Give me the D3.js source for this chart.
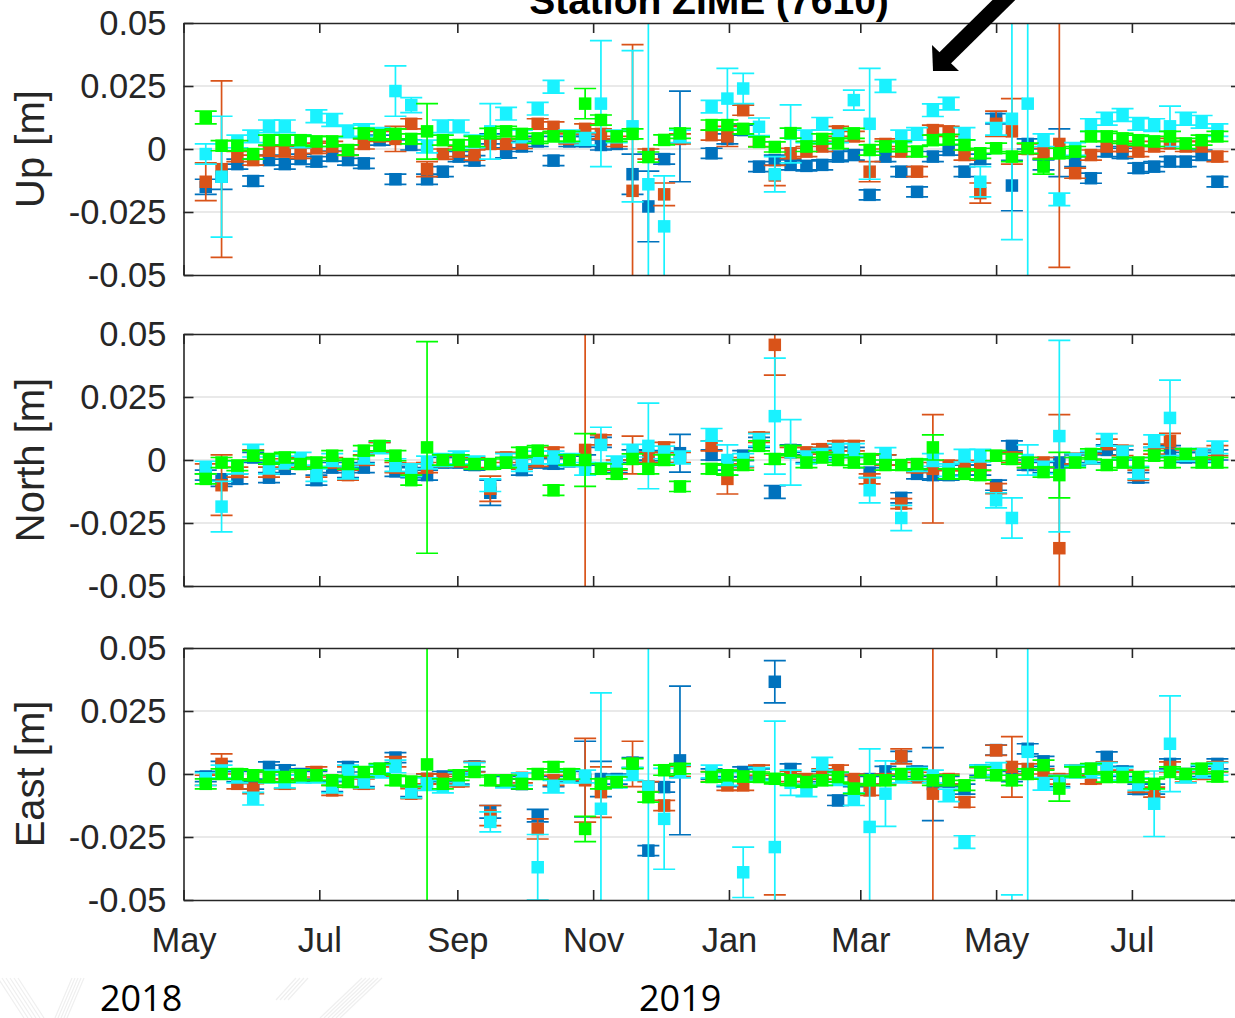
<!DOCTYPE html>
<html>
<head>
<meta charset="utf-8">
<script src="https://cdn.jsdelivr.net/npm/d3@7"></script>
<style>
  body { margin: 0; background: #fff; }
  svg { display: block; }
</style>
</head>
<body>
<div id="chart"></div>
<script>
// weekly coordinate residuals of station ZIME, values in millimetres (null = no solution)
const firstEpoch = '2018-05-11'
const epochStepDays = 7.1
const epochCount = 65

const seriesColors = ['#0072BD', '#D95319', '#19F2FF', '#00FF00']
const panelLabels = ['Up [m]', 'North [m]', 'East [m]']

const yTickValues = [-0.05, -0.025, 0, 0.025, 0.05]
const yTickLabels = ['-0.05', '-0.025', '0', '0.025', '0.05']
const gridValues = [-0.025, 0, 0.025]
const monthTicks = ['2018-05-01', '2018-07-01', '2018-09-01', '2018-11-01', '2019-01-01', '2019-03-01', '2019-05-01', '2019-07-01']
const monthLabels = ['May', 'Jul', 'Sep', 'Nov', 'Jan', 'Mar', 'May', 'Jul']
const yearLabels = ['2018', '2019']

// ---- Up ----
const upBlue = [-15, -11, -6, -12.7, -4.4, -6, -4, -5, -2.8, -4.4,
  -5.7, 3.5, -12, 1.6, -12, -9, -3, -4.6, 4, -1.5,
  1, 3, -4.6, 3, 3, 1.6, 2, -10, -22.8, -4,
  5, null, -1.7, 4, 7.5, -7, -4.4, -6.3, -6.7, -6.3,
  -3, -2.4, -18.2, -3, -9, -17, -3, -0.4, -9, -4,
  12, -14.5, 2, -6.3, -1.5, -5, -11.6, -1, -1.7, -7.6,
  -7, -5, -5, -2.4, -13]
const upBlueErr = [3, 5, 2, 2, 2, 2, 2, 2, 2, 2,
  2, 2, 2, 2, 2, 2, 2, 2, 2, 2,
  2, 2, 2, 2, 2, 2, 2, 8, 14, 2,
  18, null, 2, 2, 2, 2, 2, 2, 2, 2,
  2, 2, 2, 2, 2, 2, 2, 2, 2, 2,
  2, 10, 2, 2, 9.5, 2, 2, 2, 2, 2,
  2, 2, 2, 2, 2]
const upOrange = [-13, -8, -3, -4.4, -0.7, -1, -1.7, 0.3, 1, -0.5,
  2, 5, 4, 10, -8, -2, -1, -2.4, 2, 2,
  2.2, 10, 8.8, 4, 8, 6, 3, -16.6, -2, -18,
  4, null, 5.5, 5, 15.4, 3, -10.5, -1.7, -1, 1,
  7, 5, -9, 2, -1, -9, 7.5, 7, -2.4, -17.5,
  10, 7, 0, -1.7, 2, -9.6, -2.4, 1, 1, -1,
  1, 2.2, 1, 1, -3]
const upOrangeErr = [7.5, 35, 2, 2, 2, 2, 2, 2, 2, 2,
  2, 2, 5, 2, 3, 2, 2, 2, 2, 2,
  2, 2, 2, 2, 2, 2, 2, 58, 2, 4.5,
  2, null, 2, 4, 2, 2, 4, 2, 2, 2,
  2, 2, 4, 2, 2, 2, 2, 2, 2, 4,
  5, 13, 2, 2, 49, 2, 2, 2, 2, 2,
  2, 2, 2, 2, 2]
const upCyan = [-2, -11, 3, 5, 9, 9, 3, 13, 11.5, 7,
  7.5, 6, 23, 17.4, 1, 9, 9, 3, 7, 14,
  5, 16, 24.7, 5, 4, 18, 5, 9, -14, -30.7,
  5, null, 16.8, 20, 24, 8.8, -10, 6, 5, 10,
  5, 19.4, 10, 25, 5, 6, 15.4, 18, 6, -13,
  8, 12, 18, 3.5, -20, 0, 9.5, 12, 13.5, 10,
  9.5, 9, 12, 10.8, 7.5]
const upCyanErr = [4, 24, 2.5, 2.5, 2.5, 2.5, 2.5, 2.5, 2.5, 2.5,
  2.5, 2.5, 10, 3, 2.5, 2.5, 2.5, 2.5, 11, 2.5,
  2.5, 2.5, 2.5, 2.5, 2.5, 25, 2.5, 30, 70, 20,
  2.5, null, 2.5, 12, 6, 3.5, 7, 11.5, 2.5, 2.5,
  2.5, 4, 22, 2.5, 2.5, 2.5, 2.5, 2.5, 2.5, 6,
  2.5, 48, 80, 2.5, 2.5, 2.5, 2.5, 2.5, 2.5, 2.5,
  2.5, 8, 2.5, 2.5, 2.5]
const upGreen = [12.5, 1.3, 1.3, -2, 3.5, 3.5, 3.5, 3, 3, -0.4,
  6.2, 5.5, 6, 4, 7, 3.5, 1.6, 3, 6.2, 7,
  6, 4.2, 5, 5, 18, 11.5, 5, 6, -3.2, 3.6,
  6.2, null, 9.5, 9.5, 8, 2.8, 0.8, 6.3, 1, 4,
  2.2, 6.2, -0.4, 1, 1, -1, 3.5, 3.8, 1.6, -1.7,
  0.3, -3, 0.3, -7, -1.7, -1, 5, 5, 4.2, 3.5,
  3, 5, 2.2, 3.5, 5]
const upGreenErr = [2.5, 2, 2, 2, 2, 2, 2, 2, 2, 2,
  2, 2, 2, 2, 11, 2, 2, 2, 2, 2,
  2, 2, 2, 2, 6, 2, 2, 2, 2, 2,
  2, null, 2, 2, 2, 2, 2, 2, 2, 2,
  2, 2, 2, 2, 2, 2, 2, 2, 2, 2,
  2, 2, 2, 3, 2, 2, 2, 2, 2, 2,
  2, 2, 2, 2, 2]

// ---- North ----
const northBlue = [-6, -8, -7.5, 1, -7, -3.5, -1, -8, -3, -5,
  -3, 5, -4.5, -5, -6, -1, -1, -2, -13, -1,
  -4, -1, -1.5, -0.5, 0, 7, -3, 2, 1.7, 1,
  2.7, null, 2, -2, 1.7, 7, -12.7, 4, 1, 2,
  3, 3, -5, 0, -15, -5.5, -6, -6, -4, -4,
  -10, 5.6, -2, -3, -1, 0, 1, 4, 2, -7,
  3, 3.7, 1, 1, 2]
const northBlueErr = [2, 2.5, 2, 2, 2, 2, 2, 2, 2, 2,
  2, 2, 2, 2, 2, 2, 2, 2, 5, 2,
  2, 2, 2, 2, 2, 2, 2, 2, 2, 2,
  7.5, null, 2, 2, 2, 2, 2.5, 2, 2, 2,
  2, 2, 2, 2, 2, 2, 2, 2, 2, 2,
  2, 2, 2, 2, 2, 2, 2, 2, 2, 2,
  2, 2, 2, 2, 2]
const northOrange = [-3.5, -10, -4.8, 2, -4.8, -1.5, -1, -4.8, -1, -6,
  0, 5, -3, -3.5, -3, -0.5, -0.5, -1, -11.4, 1,
  -1.6, -0.5, 3, 0, 4, 8, -2, 2, 1, 5,
  1, null, 5.6, -7.5, -1, 9, 45.7, 3, 3, 4.3,
  5.6, 5.6, -7.5, 0, -17.3, -3, -3.5, -2.2, -2.2, -2.2,
  -11.4, 1, -1, -1, -35, 0.5, 0.5, 6.3, 3.7, -6,
  4.3, 7.6, 2, 2.4, 3.7]
const northOrangeErr = [2, 12, 2, 2, 2, 2, 2, 2, 2, 2,
  2, 2, 2, 2, 2, 2, 2, 2, 5, 2,
  2, 2, 2, 2, 60, 2, 2, 7.5, 2, 2,
  2, null, 2, 6, 2, 2, 12, 2, 2, 2,
  2, 2, 2, 2, 2, 2, 21.5, 2, 2, 2,
  2, 2, 2, 2, 53, 2, 2, 2, 2, 2,
  2, 3, 2, 2, 2]
const northCyan = [-3, -18.5, -3, 3.7, -3, -1, 0.5, -6, 0, -5,
  1, 5, -2, -4, -1, 0, 1, -1, -10, 0,
  -2, 1, 1, 0, -3.5, 6, -1, 3.7, 5.6, 3,
  1, null, 10, 0, 0, 8, 17.4, 3, 1, 2,
  4, 4, -12, 2.4, -23, -2, 0, -4, 1.7, 1.7,
  -16, -23, 0, -3, 9.5, 0, 1, 8, 3, -5,
  7.5, 16.7, 2, 2, 5]
const northCyanErr = [2.5, 10, 2.5, 2.5, 2.5, 2.5, 2.5, 2.5, 2.5, 2.5,
  2.5, 2.5, 2.5, 2.5, 2.5, 2.5, 2.5, 2.5, 2.5, 2.5,
  2.5, 2.5, 2.5, 2.5, 2.5, 7, 2.5, 2.5, 17, 2.5,
  2.5, null, 2.5, 6, 2.5, 2.5, 23, 13, 2.5, 2.5,
  2.5, 2.5, 5, 2.5, 5, 2.5, 2.5, 2.5, 2.5, 2.5,
  3, 8, 6, 2.5, 38, 2.5, 2.5, 2.5, 2.5, 2.5,
  2.5, 15, 2.5, 2.5, 2.5]
const northGreen = [-7.5, -1, -2.2, 1.7, 0.4, 1, -1.6, -1, 1.7, -1.6,
  3.7, 5.6, 1.7, -8, 5, 0, 0, -1.6, -1.6, -1,
  3, 3.7, -12, 0, 0, -3.5, -5.5, 0.4, -3.5, 0,
  -10.5, null, -3.5, -4, -2, 5.6, 0.4, 3.7, -1, 1,
  0, -1, 0.4, -2, -2, -1.6, 5, -5.5, -5.5, -6,
  1.7, 0.4, -1, -4.8, -6, -1, 2.4, -2, -1, -1,
  1.7, -1, 2.4, -1, -1]
const northGreenErr = [2, 2, 2, 2, 2, 2, 2, 2, 2, 2,
  2, 2, 2, 2, 42, 2, 2, 2, 2, 2,
  2, 2, 2, 2, 10.5, 2, 2, 2, 2, 2,
  2, null, 2, 2, 2, 2, 2, 2, 2, 2,
  2, 2, 2, 2, 2, 2, 5, 2, 2, 2,
  2, 2, 2, 2, 9, 2, 2, 2, 2, 2,
  2, 2, 2, 2, 2]

// ---- East ----
const eastBlue = [-1, 3, -1, -4, 2.8, 1.5, 0, -1, -5, 2.8,
  -3, 2, 6.5, -7, -2, -1, -2, 3, -15, -3,
  -4, -16.5, -3, -1, -2, -2, -2, 4.5, -30.4, -5.2,
  5.4, null, 0, -3, 0.8, 0, 36.6, 2, -3, -1,
  -10.5, -3, -2, 1, 7, 1, -4, -3, -6, 1.5,
  9.5, -1, 10, 5, -3, 1, 2, 6.8, 1, -6,
  -6, 4, 0, 1, 4]
const eastBlueErr = [2, 2, 2, 2, 2, 2, 2, 2, 2, 2,
  2, 2, 2, 2, 2, 2, 2, 2, 2.5, 2,
  2, 2.5, 2, 2, 15, 7, 2, 2, 2, 2,
  29.5, null, 2, 2, 2, 2, 8.4, 2, 2, 2,
  2, 2, 2, 2, 2, 2, 14.5, 2, 2, 2,
  2, 2, 2, 2, 2, 2, 2, 2, 2, 2,
  2, 2, 2, 2, 2]
const eastOrange = [-2.5, 4, -3.9, -5.8, -1, -3.9, -0.5, 0.8, -6.5, 0.8,
  -3.9, 1, 4.8, -7.8, -1.9, -2, -3, 2.8, -16.5, -2.5,
  -1.5, -21.8, -2.5, -0.5, -2.5, -7.2, -3, 4, -5, -12.5,
  1, null, -1, -4.5, -4.5, 1.5, -62, -1, -2, 0,
  1.5, -2, -6.5, -2, 7, -1.3, -7.8, -2, -11.2, 0.5,
  9.4, 2.8, 2, 0, -2, 1.5, -1.9, 2.8, -0.5, -5.2,
  -7.2, 2.8, -1.2, 0, 2.8]
const eastOrangeErr = [2, 4, 2, 2, 2, 2, 2, 2, 2, 2,
  2, 2, 2, 2, 2, 2, 2, 2, 4, 2,
  2, 4, 2, 2, 16.6, 10, 2, 9, 2, 2,
  2, null, 2, 2, 2, 2, 14, 2, 2, 2,
  2, 2, 2, 2, 3, 2, 60, 2, 2, 2,
  2, 12, 2, 2, 2, 2, 2, 2, 2, 2,
  2, 2, 2, 2, 2]
const eastCyan = [-2, 1, -1, -9.8, -1, -3, -1, -1, -5, 1,
  -3, 1, 3, -7, -4, -5, -2, 2, -19, -3,
  -2, -37, -5, -1, -1, -13.8, -3, 0, -5, -17.8,
  1, null, 1, -2, -39, 0, -29, -3.5, -6.5, 4.1,
  -2, -10, -21, -7.8, -1, 0, -1, -8.5, -27, 1,
  2, -62, 8.8, -3.9, -3, 1, 1, 2, 0, -4,
  -11.8, 12, -1, 1, 2]
const eastCyanErr = [2.5, 2.5, 2.5, 2.5, 2.5, 2.5, 2.5, 2.5, 2.5, 2.5,
  2.5, 2.5, 2.5, 2.5, 2.5, 2.5, 2.5, 2.5, 4, 2.5,
  2.5, 13, 2.5, 2.5, 2.5, 46, 2.5, 2.5, 70, 20,
  2.5, null, 2.5, 2.5, 10, 2.5, 50, 5, 2.5, 2.5,
  2.5, 2.5, 31, 13, 2.5, 2.5, 2.5, 2.5, 2.5, 2.5,
  2.5, 14, 60, 2.5, 2.5, 2.5, 2.5, 2.5, 2.5, 2.5,
  13, 19, 2.5, 2.5, 2.5]
const eastGreen = [-3.9, 0, 0, -0.5, -1.2, -1.2, -0.5, -0.5, -2.5, -3.2,
  0.8, 2.1, -2.5, -3, 3.8, -3.9, -0.5, 0.8, -2.5, -2.5,
  -3.9, 0, 2.8, 0, -21.8, -3.9, -3.2, 4.1, -9.2, 1.5,
  2.1, null, -1.2, -0.5, -1, -1.2, -1.9, -2.5, -3.2, -2.5,
  -1.2, -5.8, -2.5, -2.5, 0, 0, -2.5, -2.5, -4.5, 0.8,
  -0.5, -2.5, 0, 3.5, -5.8, 0.8, 2.1, -1.2, -1.2, -1.2,
  -3.9, 0.8, 0, 2.1, -1]
const eastGreenErr = [2, 2, 2, 2, 2, 2, 2, 2, 2, 2,
  2, 2, 2, 2, 60, 2, 2, 2, 2, 2,
  2, 2, 2, 2, 5, 2, 2, 2, 2, 2,
  2, null, 2, 2, 2, 2, 2, 2, 2, 2,
  2, 2, 2, 2, 2, 2, 2, 2, 2, 2,
  2, 2, 2, 2, 5, 2, 2, 2, 2, 2,
  2, 2, 2, 2, 2]

const panelValues = [
  [upBlue, upOrange, upCyan, upGreen],
  [northBlue, northOrange, northCyan, northGreen],
  [eastBlue, eastOrange, eastCyan, eastGreen]
]
const panelErrors = [
  [upBlueErr, upOrangeErr, upCyanErr, upGreenErr],
  [northBlueErr, northOrangeErr, northCyanErr, northGreenErr],
  [eastBlueErr, eastOrangeErr, eastCyanErr, eastGreenErr]
]

// ---- layout ----
const width = 1235
const height = 1018
const plotLeft = 183.5
const plotRight = 1241
const panelTops = [23, 334, 648]
const panelHeight = 252
const axisFont = '"Liberation Sans", Arial, Helvetica, sans-serif'
const axisColor = '#262626'

const parseDay = d3.timeParse('%Y-%m-%d')
const start = parseDay(firstEpoch)
const epochs = d3.range(epochCount).map(i => new Date(start.getTime() + i * epochStepDays * 864e5))
const tickDates = monthTicks.map(parseDay)

const x = d3.scaleTime()
  .domain([parseDay('2018-05-01'), parseDay('2019-08-19')])
  .range([plotLeft, plotRight])

const svg = d3.select('#chart')
  .append('svg')
  .attr('width', width)
  .attr('height', height)
  .attr('viewBox', [0, 0, width, height])

// faint watermark hatching in the lower left corner
const hatch = svg.append('g').attr('stroke', '#efefef').attr('stroke-width', 1.2)
hatch.selectAll('.h1').data(d3.range(6)).join('line')
  .attr('x1', d => d * 4 - 2).attr('y1', 978).attr('x2', d => d * 4 + 24).attr('y2', 1018)
hatch.selectAll('.h2').data(d3.range(5)).join('line')
  .attr('x1', d => 72 + d * 3).attr('y1', 978).attr('x2', d => 55 + d * 3).attr('y2', 1018)
hatch.selectAll('.h3').data(d3.range(4)).join('line')
  .attr('x1', d => 296 + d * 4).attr('y1', 978).attr('x2', d => 276 + d * 4).attr('y2', 1000)
hatch.selectAll('.h4').data(d3.range(6)).join('line')
  .attr('x1', d => 362 + d * 4).attr('y1', 978).attr('x2', d => 320 + d * 4).attr('y2', 1018)

panelLabels.forEach((label, p) => {
  const top = panelTops[p]
  const y = d3.scaleLinear().domain([-0.05, 0.05]).range([panelHeight, 0])
  const g = svg.append('g').attr('transform', `translate(0, ${top})`)

  g.append('clipPath').attr('id', `clip${p}`)
    .append('rect')
    .attr('x', plotLeft).attr('y', 0)
    .attr('width', plotRight - plotLeft).attr('height', panelHeight)

  g.append('g')
    .selectAll('line')
    .data(gridValues)
    .join('line')
    .attr('x1', plotLeft).attr('x2', plotRight)
    .attr('y1', d => y(d)).attr('y2', d => y(d))
    .attr('stroke', '#e2e2e2')
    .attr('stroke-width', 1.5)

  const marks = g.append('g').attr('clip-path', `url(#clip${p})`)

  panelValues[p].forEach((values, s) => {
    const errs = panelErrors[p][s]
    const color = seriesColors[s]
    const pts = d3.range(epochCount)
      .filter(i => values[i] !== null)
      .map(i => ({ date: epochs[i], v: values[i] / 1000, e: errs[i] / 1000 }))
    const layer = marks.append('g')
    layer.selectAll('path')
      .data(pts)
      .join('path')
      .attr('d', d => {
        const cx = x(d.date)
        const y1 = y(d.v + d.e)
        const y2 = y(d.v - d.e)
        return `M${cx},${y1}V${y2}M${cx - 11},${y1}H${cx + 11}M${cx - 11},${y2}H${cx + 11}`
      })
      .attr('fill', 'none')
      .attr('stroke', color)
      .attr('stroke-width', 1.7)
    layer.selectAll('rect')
      .data(pts)
      .join('rect')
      .attr('x', d => x(d.date) - 6.25)
      .attr('y', d => y(d.v) - 6.25)
      .attr('width', 12.5)
      .attr('height', 12.5)
      .attr('fill', color)
  })

  const styleAxis = sel => sel
    .attr('font-size', 34.5)
    .attr('font-family', axisFont)
    .attr('color', axisColor)
    .call(a => a.selectAll('path, line').attr('stroke-width', 1.6))

  g.append('g')
    .attr('transform', `translate(0, ${panelHeight})`)
    .call(d3.axisBottom(x).tickValues(tickDates).tickSize(-10).tickSizeOuter(0).tickPadding(28)
      .tickFormat((d, i) => (p === 2 ? monthLabels[i] : '')))
    .call(styleAxis)

  g.append('g')
    .call(d3.axisTop(x).tickValues(tickDates).tickSize(-10).tickSizeOuter(0).tickFormat(''))
    .call(styleAxis)

  g.append('g')
    .attr('transform', `translate(${plotLeft}, 0)`)
    .call(d3.axisLeft(y).tickValues(yTickValues).tickSize(-10).tickSizeOuter(0).tickPadding(17)
      .tickFormat((d, i) => yTickLabels[i]))
    .call(styleAxis)

  g.append('g')
    .attr('transform', `translate(${plotRight}, 0)`)
    .call(d3.axisRight(y).tickValues(yTickValues).tickSize(-10).tickSizeOuter(0).tickFormat(''))
    .call(styleAxis)

  g.append('text')
    .attr('transform', `translate(44, ${panelHeight / 2}) rotate(-90)`)
    .attr('text-anchor', 'middle')
    .attr('font-family', axisFont)
    .attr('font-size', 40)
    .attr('fill', axisColor)
    .text(label)
})

// title, mostly cut off by the top edge
svg.append('text')
  .attr('x', 709)
  .attr('y', 14)
  .attr('text-anchor', 'middle')
  .attr('font-family', axisFont)
  .attr('font-weight', 'bold')
  .attr('font-size', 39)
  .attr('fill', '#000')
  .text('Station ZIME (7610)')

// black arrow annotation
svg.append('line')
  .attr('x1', 1012).attr('y1', -8)
  .attr('x2', 944).attr('y2', 59)
  .attr('stroke', '#000')
  .attr('stroke-width', 16)
svg.append('path')
  .attr('d', 'M933,71L932,45L959,71Z')
  .attr('fill', '#000')

// year labels under the time axis
svg.selectAll('.year')
  .data(yearLabels)
  .join('text')
  .attr('class', 'year')
  .attr('x', (d, i) => [100, 639][i])
  .attr('y', 1011)
  .attr('font-family', '"Open Sans", "Noto Sans", sans-serif')
  .attr('font-size', 36)
  .attr('fill', '#000')
  .text(d => d)
</script>
</body>
</html>
